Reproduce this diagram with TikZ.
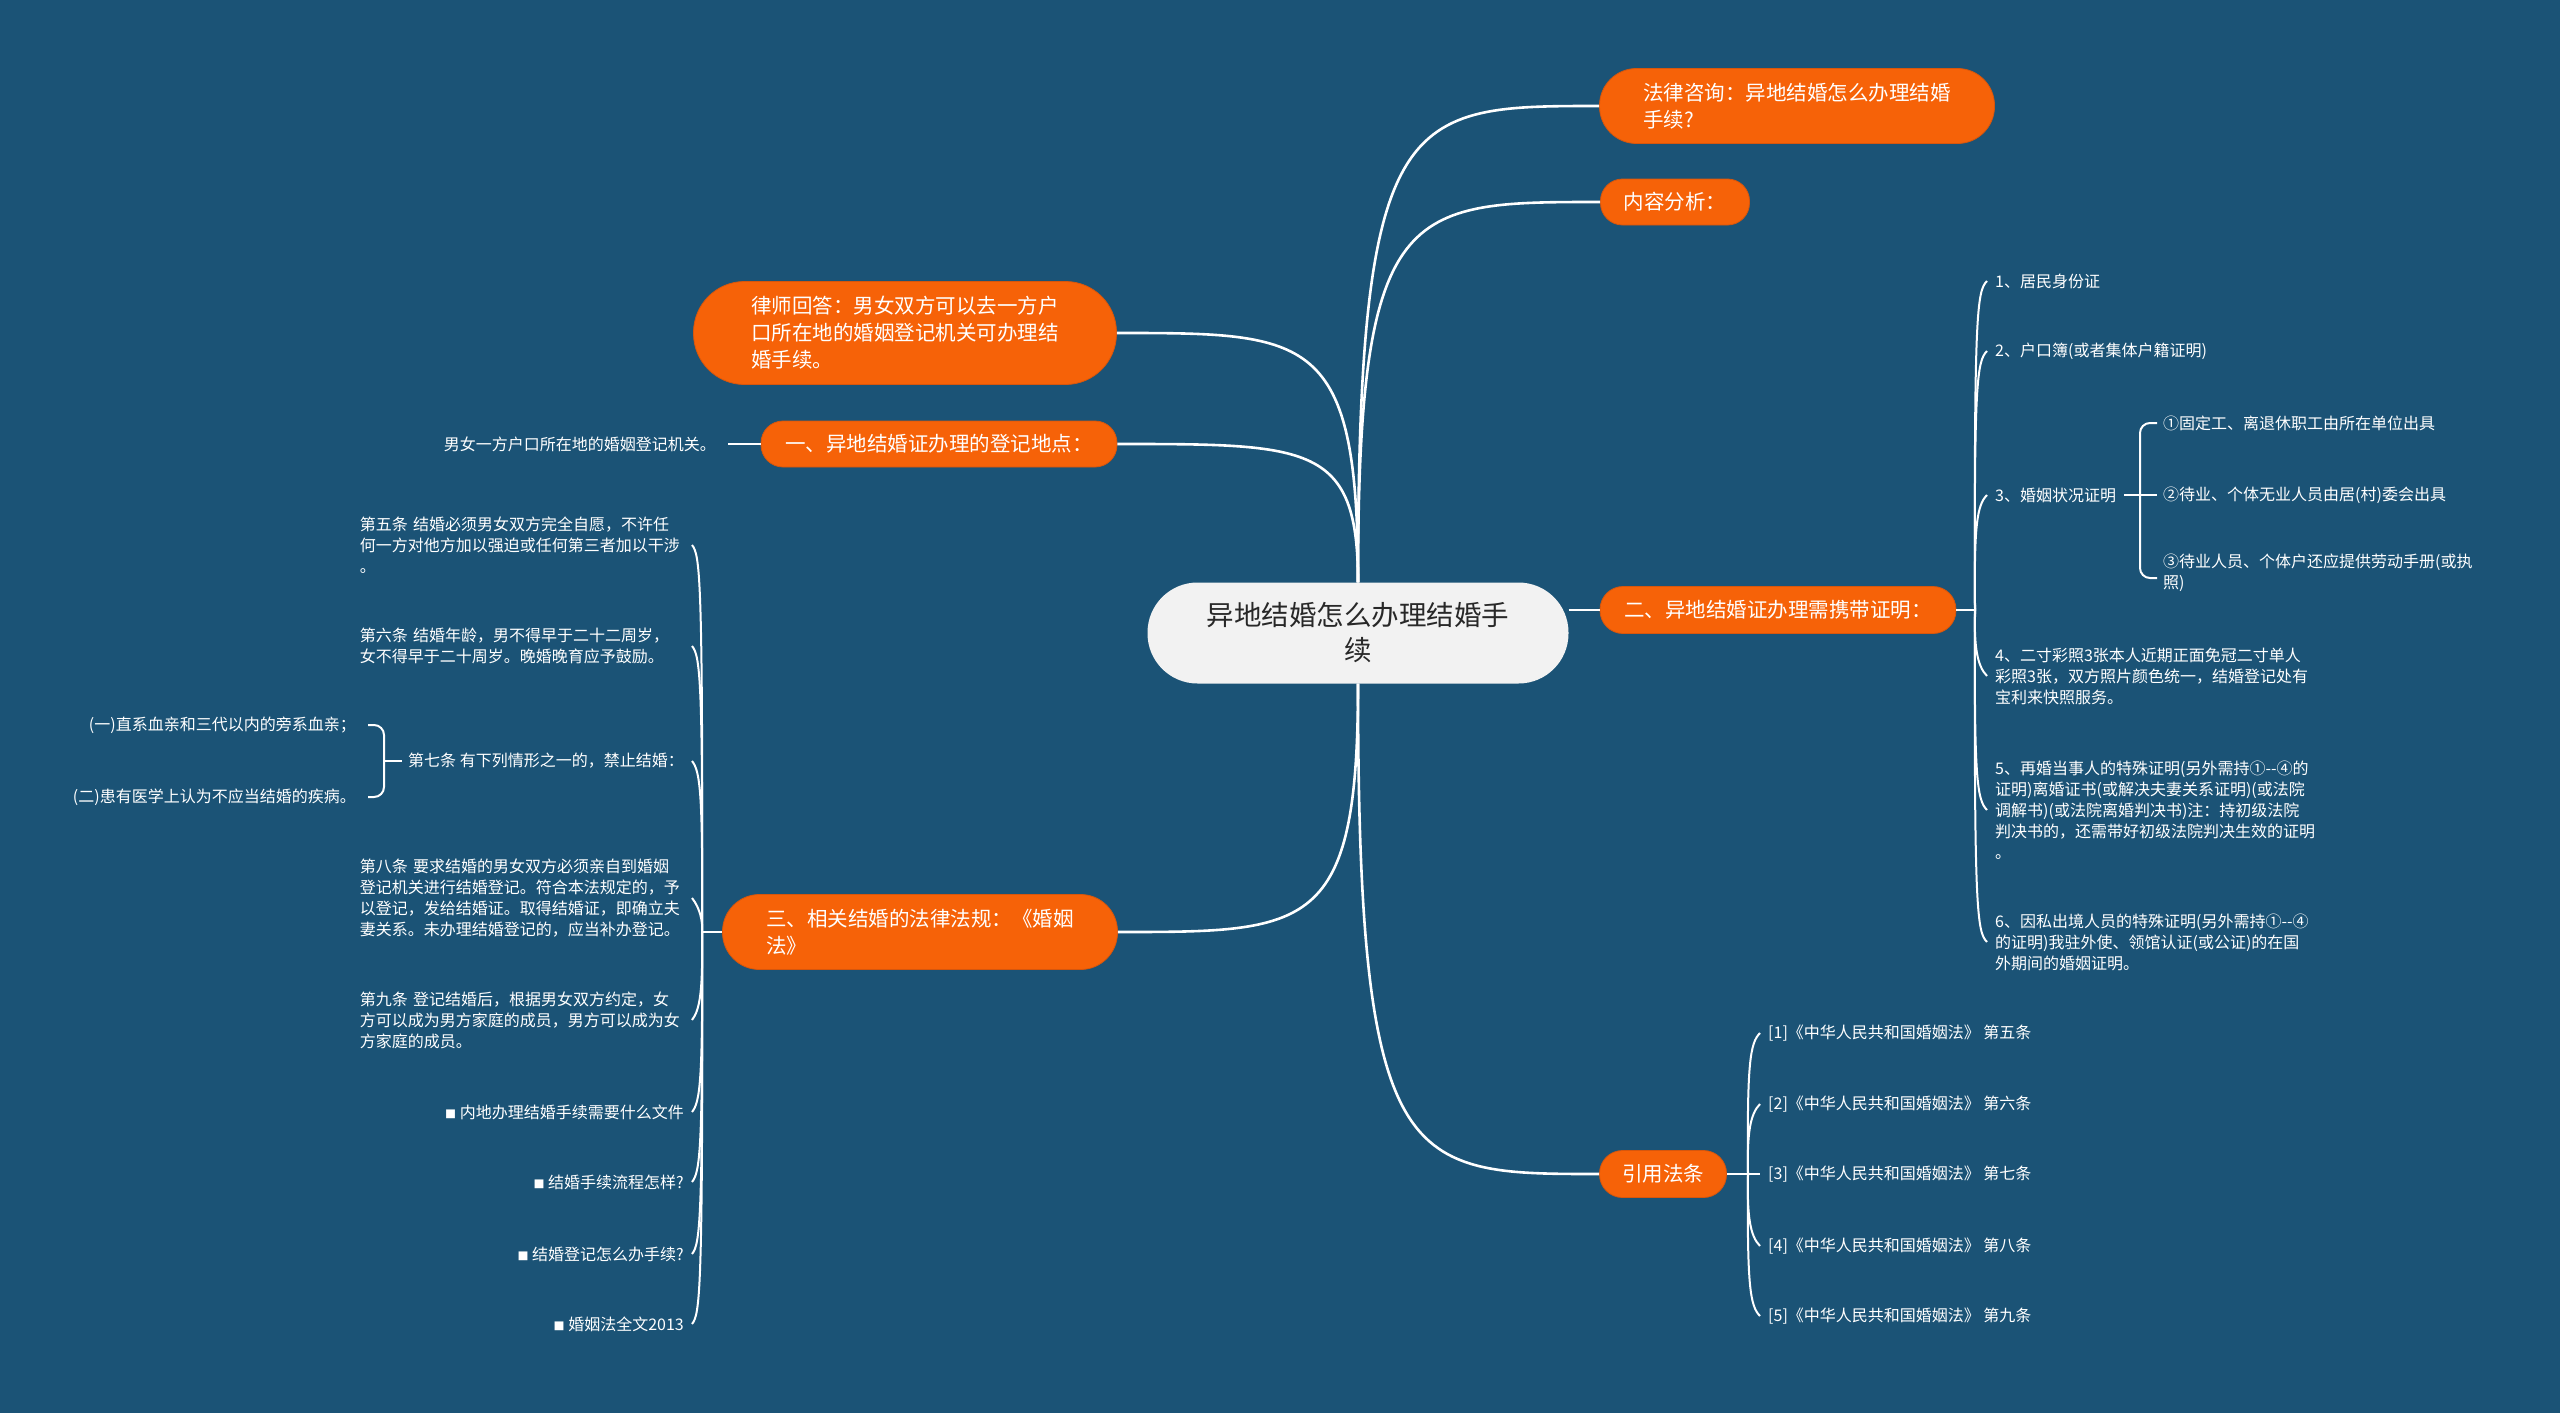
\documentclass[tikz,border=0pt]{standalone}
\usepackage{fontspec}
\setmainfont{Noto Sans CJK SC}
\definecolor{bg}{RGB}{27,83,118}
\definecolor{org}{RGB}{246,98,8}
\definecolor{orgdark}{RGB}{215,86,12}
\definecolor{ctrfill}{RGB}{242,242,242}
\definecolor{ctrtext}{RGB}{40,40,40}
\begin{document}
\begin{tikzpicture}[x=1pt,y=-1pt,
  conn/.style={draw=white, line width=2.6pt},
  hook/.style={draw=white, line width=2pt},
  obox/.style={fill=org, draw=orgdark, line width=0.8pt, text=white, align=left,
    font=\fontsize{20.5pt}{27pt}\selectfont, inner sep=0pt},
  ctrbox/.style={fill=ctrfill, draw=none, text=ctrtext, align=center,
    font=\fontsize{27.5pt}{35pt}\selectfont, inner sep=0pt},
  leaf/.style={text=white, align=left, inner sep=0pt, font=\fontsize{16pt}{21pt}\selectfont},
  leafL/.style={leaf, anchor=east},
  leafW/.style={leaf, anchor=east, text width=324pt},
  leafR/.style={leaf, anchor=west},
]
\fill[bg] (0,0) rectangle (2560,1413);
\useasboundingbox (0,0) rectangle (2560,1413);

% central node
\node[ctrbox, minimum width=421pt, minimum height=101pt, rounded corners=50pt] (ctr) at (1358,633)
  {异地结婚怎么办理结婚手\\续};

% main branches
\node[obox, minimum width=395pt, minimum height=75pt, rounded corners=37pt] (law) at (1797,106)
  {法律咨询：异地结婚怎么办理结婚\\手续?};
\node[obox, minimum width=149pt, minimum height=46pt, rounded corners=22pt] (ana) at (1675,202)
  {内容分析：};
\node[obox, minimum width=423pt, minimum height=103pt, rounded corners=51pt] (lawyer) at (905,333)
  {律师回答：男女双方可以去一方户\\口所在地的婚姻登记机关可办理结\\婚手续。};
\node[obox, minimum width=356pt, minimum height=46pt, rounded corners=22pt] (one) at (939,444)
  {一、异地结婚证办理的登记地点：};
\node[obox, minimum width=356pt, minimum height=47pt, rounded corners=23pt] (two) at (1778,610)
  {二、异地结婚证办理需携带证明：};
\node[obox, minimum width=395pt, minimum height=75pt, rounded corners=37pt] (three) at (920,932)
  {三、相关结婚的法律法规：《婚姻\\法》};
\node[obox, minimum width=127pt, minimum height=47pt, rounded corners=23pt] (cite) at (1663,1174)
  {引用法条};

% main connectors
\draw[conn] (ctr.north) .. controls (1358,106) and (1406,106) .. (law.west);
\draw[conn] (ctr.north) .. controls (1358,202) and (1406,202) .. (ana.west);
\draw[conn] (ctr.north) .. controls (1358,333) and (1310,333) .. (lawyer.east);
\draw[conn] (ctr.north) .. controls (1358,444) and (1310,444) .. (one.east);
\draw[conn] (ctr.south) .. controls (1358,932) and (1310,932) .. (three.east);
\draw[conn] (ctr.south) .. controls (1358,1174) and (1406,1174) .. (cite.west);
\draw[conn] (ctr.east |- two.west) -- (two.west);

% branch one child
\node[leafL] (onec) at (716,444) {男女一方户口所在地的婚姻登记机关。};
\draw[hook] (one.west) -- ([xshift=12pt]onec.east);

% branch three children
\coordinate (J) at (702,932);
\draw[hook] (three.west) -- (J);
\node[leafW] (s5) at (684,545) {第五条 结婚必须男女双方完全自愿，不许任\\何一方对他方加以强迫或任何第三者加以干涉\\。};
\node[leafW] (s6) at (684,646) {第六条 结婚年龄，男不得早于二十二周岁，\\女不得早于二十周岁。晚婚晚育应予鼓励。};
\node[leafL] (s7) at (684,761) {第七条 有下列情形之一的，禁止结婚：};
\node[leafW] (s8) at (684,898) {第八条 要求结婚的男女双方必须亲自到婚姻\\登记机关进行结婚登记。符合本法规定的，予\\以登记，发给结婚证。取得结婚证，即确立夫\\妻关系。未办理结婚登记的，应当补办登记。};
\node[leafW] (s9) at (684,1020) {第九条 登记结婚后，根据男女双方约定，女\\方可以成为男方家庭的成员，男方可以成为女\\方家庭的成员。};
\node[leafL] (s10) at (684,1112) {{\fontsize{11pt}{11pt}\selectfont ■} 内地办理结婚手续需要什么文件};
\node[leafL] (s11) at (684,1182) {{\fontsize{11pt}{11pt}\selectfont ■} 结婚手续流程怎样?};
\node[leafL] (s12) at (684,1254) {{\fontsize{11pt}{11pt}\selectfont ■} 结婚登记怎么办手续?};
\node[leafL] (s13) at (684,1324) {{\fontsize{11pt}{11pt}\selectfont ■} 婚姻法全文2013};

\draw[hook] (J) .. controls (703,575) and (700,555) .. ([xshift=8pt]s5.east);
\draw[hook] (J) .. controls (703,676) and (700,656) .. ([xshift=8pt]s6.east);
\draw[hook] (J) .. controls (703,791) and (700,771) .. ([xshift=8pt]s7.east);
\draw[hook] (J) .. controls (703,922) and (700,908) .. ([xshift=8pt]s8.east);
\draw[hook] (J) .. controls (703,990) and (700,1010) .. ([xshift=8pt]s9.east);
\draw[hook] (J) .. controls (703,1082) and (700,1102) .. ([xshift=8pt]s10.east);
\draw[hook] (J) .. controls (703,1152) and (700,1172) .. ([xshift=8pt]s11.east);
\draw[hook] (J) .. controls (703,1224) and (700,1244) .. ([xshift=8pt]s12.east);
\draw[hook] (J) .. controls (703,1294) and (700,1314) .. ([xshift=8pt]s13.east);

% article seven sub-items
\node[leafL] (s7a) at (356,725) {(一)直系血亲和三代以内的旁系血亲；};
\node[leafL] (s7b) at (356,797) {(二)患有医学上认为不应当结婚的疾病。};
\coordinate (B7) at (384,761);
\draw[hook, rounded corners=10pt] ([xshift=12pt]s7a.east) -| (B7) |- ([xshift=12pt]s7b.east);
\draw[hook] (B7) -- ([xshift=-6pt]s7.west);

% branch two children
\coordinate (J2) at (1975,610);
\draw[hook] (two.east) -- (J2);
\node[leafR] (c1) at (1995,281) {1、居民身份证};
\node[leafR] (c2) at (1995,351) {2、户口簿(或者集体户籍证明)};
\node[leafR] (c3) at (1995,495) {3、婚姻状况证明};
\node[leafR] (c4) at (1995,676) {4、二寸彩照3张本人近期正面免冠二寸单人\\彩照3张，双方照片颜色统一，结婚登记处有\\宝利来快照服务。};
\node[leafR] (c5) at (1995,810) {5、再婚当事人的特殊证明(另外需持①-{}-④的\\证明)离婚证书(或解决夫妻关系证明)(或法院\\调解书)(或法院离婚判决书)注：持初级法院\\判决书的，还需带好初级法院判决生效的证明\\。};
\node[leafR] (c6) at (1995,942) {6、因私出境人员的特殊证明(另外需持①-{}-④\\的证明)我驻外使、领馆认证(或公证)的在国\\外期间的婚姻证明。};

\draw[hook] (J2) .. controls (1974,311) and (1977,291) .. ([xshift=-8pt]c1.west);
\draw[hook] (J2) .. controls (1974,381) and (1977,361) .. ([xshift=-8pt]c2.west);
\draw[hook] (J2) .. controls (1974,525) and (1977,505) .. ([xshift=-8pt]c3.west);
\draw[hook] (J2) .. controls (1974,646) and (1977,666) .. ([xshift=-8pt]c4.west);
\draw[hook] (J2) .. controls (1974,780) and (1977,800) .. ([xshift=-8pt]c5.west);
\draw[hook] (J2) .. controls (1974,912) and (1977,932) .. ([xshift=-8pt]c6.west);

% marital status sub-items
\node[leafR] (c3a) at (2163,423) {①固定工、离退休职工由所在单位出具};
\node[leafR] (c3b) at (2163,495) {②待业、个体无业人员由居(村)委会出具};
\node[leafR] (c3c) at (2163,573) {③待业人员、个体户还应提供劳动手册(或执\\照)};
\coordinate (B3) at (2140,495);
\draw[hook] ([xshift=8pt]c3.east) -- (B3);
\draw[hook, rounded corners=10pt] ([xshift=-6pt]c3a.west) -| (B3) |- ([xshift=-6pt,yshift=-5pt]c3c.west);
\draw[hook] (B3) -- ([xshift=-6pt]c3b.west);

% citation children
\coordinate (J3) at (1748,1174);
\draw[hook] (cite.east) -- (J3);
\node[leafR] (r1) at (1768,1033) {[1]《中华人民共和国婚姻法》 第五条};
\node[leafR] (r2) at (1768,1104) {[2]《中华人民共和国婚姻法》 第六条};
\node[leafR] (r3) at (1768,1174) {[3]《中华人民共和国婚姻法》 第七条};
\node[leafR] (r4) at (1768,1246) {[4]《中华人民共和国婚姻法》 第八条};
\node[leafR] (r5) at (1768,1316) {[5]《中华人民共和国婚姻法》 第九条};
\draw[hook] (J3) .. controls (1747,1063) and (1750,1043) .. ([xshift=-8pt]r1.west);
\draw[hook] (J3) .. controls (1747,1134) and (1750,1114) .. ([xshift=-8pt]r2.west);
\draw[hook] (J3) -- ([xshift=-8pt]r3.west);
\draw[hook] (J3) .. controls (1747,1216) and (1750,1236) .. ([xshift=-8pt]r4.west);
\draw[hook] (J3) .. controls (1747,1286) and (1750,1306) .. ([xshift=-8pt]r5.west);
\end{tikzpicture}
\end{document}
